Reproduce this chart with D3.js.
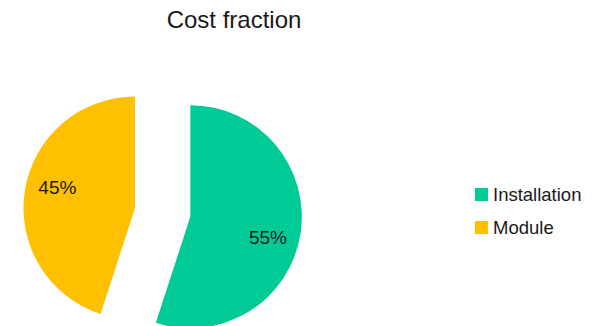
<!DOCTYPE html>
<html>
<head>
<meta charset="utf-8">
<script src="https://cdn.jsdelivr.net/npm/d3@7"></script>
<style>
  html, body { margin: 0; padding: 0; background: #fff; }
  svg { display: block; font-family: "Liberation Sans", Arial, sans-serif; }
</style>
</head>
<body>
<svg id="chart" width="605" height="326"></svg>
<script>
// Cost breakdown
const categories = ["Installation", "Module"];
const shares = [55, 45];
const colors = ["#00CB97", "#FFC000"];
const explode = [56, 0];   // px pulled out along each slice's bisector

const W = 605, H = 326;
const cx = 135, cy = 208, radius = 111.5;

const svg = d3.select("#chart");

svg.append("text")
  .attr("x", 234).attr("y", 28)
  .attr("text-anchor", "middle")
  .attr("font-size", 24)
  .attr("fill", "#1a1a1a")
  .text("Cost fraction");

const pie = d3.pie().sort(null).value(d => d)(shares);
const arc = d3.arc().innerRadius(0).outerRadius(radius);
const labelR = radius * 0.72;
const labelShift = 0.1; // labels sit slightly clockwise of the bisector

const g = svg.append("g").attr("transform", `translate(${cx},${cy})`);

const slices = g.selectAll("g.slice")
  .data(pie)
  .join("g")
  .attr("class", "slice")
  .attr("transform", (d, i) => {
    const a = (d.startAngle + d.endAngle) / 2;
    return `translate(${Math.sin(a) * explode[i]},${-Math.cos(a) * explode[i]})`;
  });

slices.append("path")
  .attr("d", arc)
  .attr("fill", (d, i) => colors[i]);

slices.append("text")
  .attr("transform", d => {
    const a = (d.startAngle + d.endAngle) / 2 + labelShift;
    return `translate(${Math.sin(a) * labelR},${-Math.cos(a) * labelR})`;
  })
  .attr("text-anchor", "middle")
  .attr("dy", "0.35em")
  .attr("font-size", 19)
  .attr("fill", "#1a1a1a")
  .text(d => d.data + "%");

// Legend
const legend = svg.append("g").attr("transform", "translate(475,188)");
const items = legend.selectAll("g")
  .data(categories)
  .join("g")
  .attr("transform", (d, i) => `translate(0,${i * 33})`);
items.append("rect")
  .attr("width", 13).attr("height", 13)
  .attr("fill", (d, i) => colors[i]);
items.append("text")
  .attr("x", 18).attr("y", 13)
  .attr("font-size", 18.5)
  .attr("fill", "#1a1a1a")
  .text(d => d);
</script>
</body>
</html>
